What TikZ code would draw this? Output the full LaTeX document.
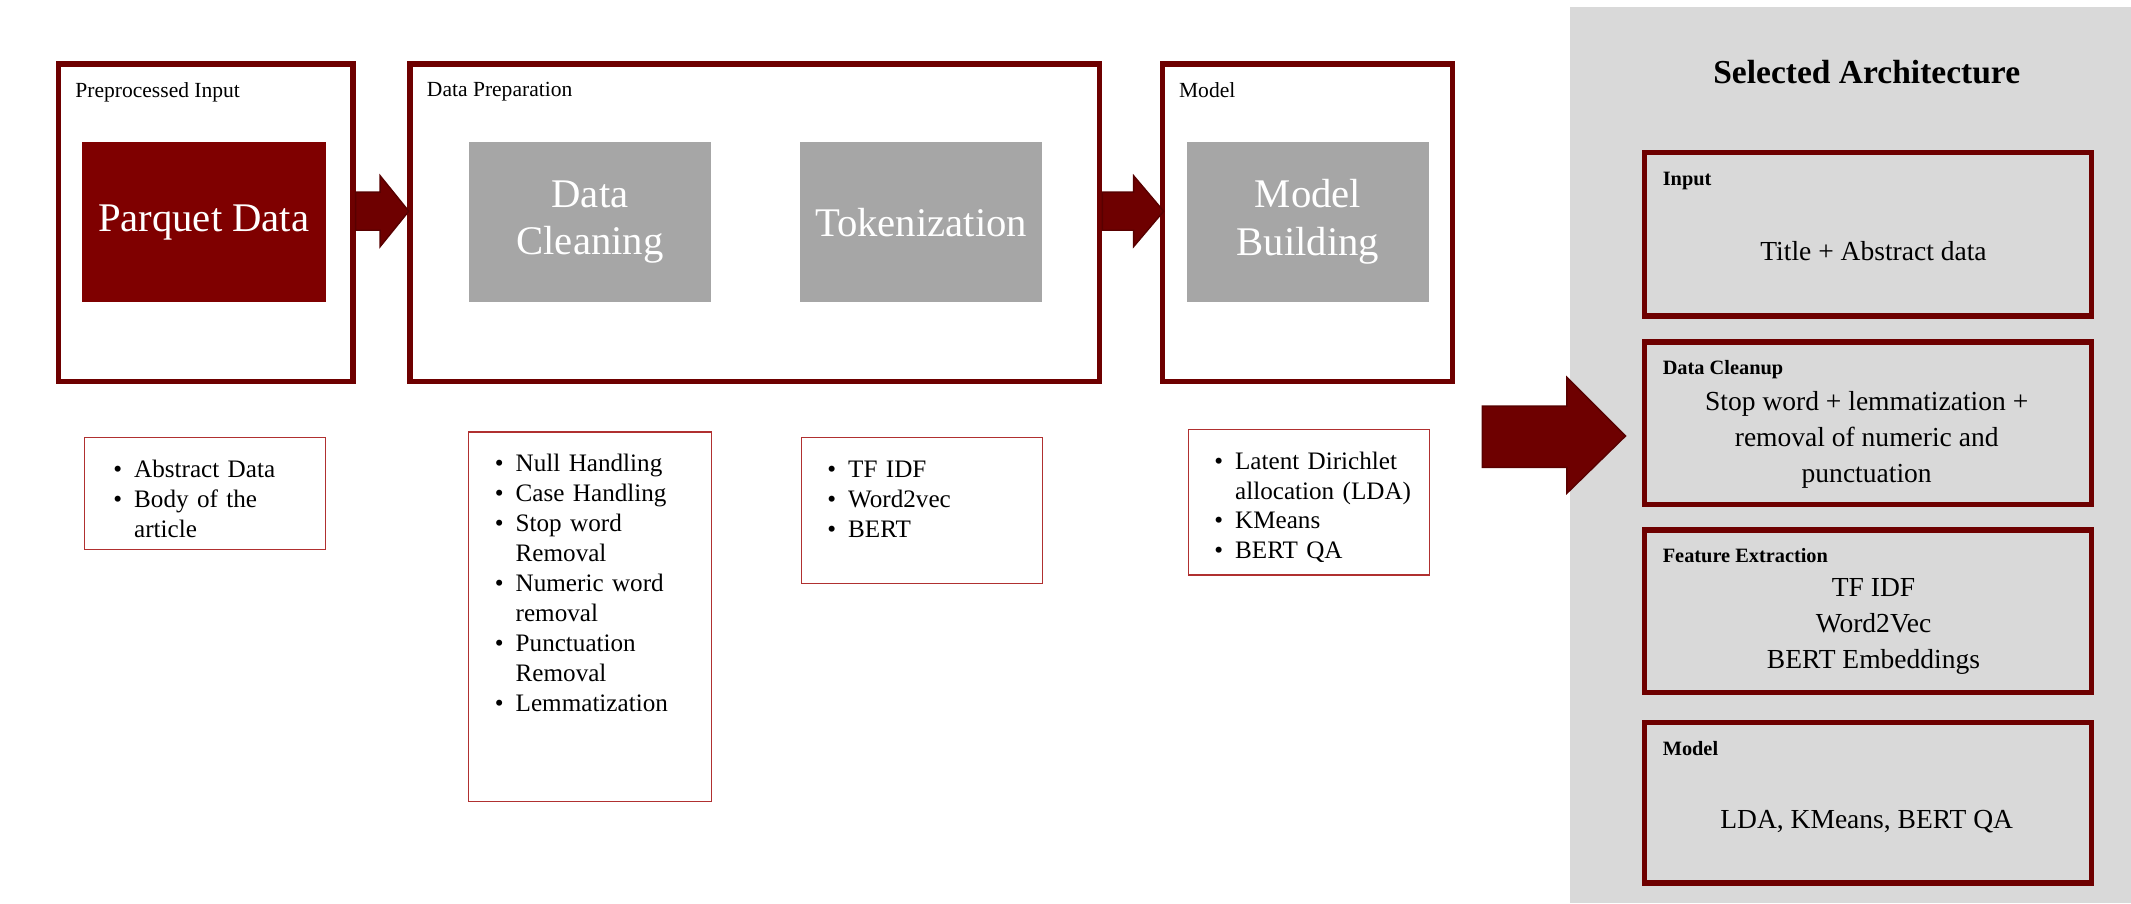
\documentclass[tikz,border=0pt]{standalone}
\usepackage{fontspec}
\setmainfont{Liberation Serif}
\usepackage{enumitem}
\definecolor{darkred}{HTML}{6E0000}
\definecolor{parquet}{HTML}{7F0000}
\definecolor{thinred}{HTML}{B03030}
\definecolor{panel}{HTML}{D9D9D9}
\definecolor{stepgray}{HTML}{A6A6A6}

\begin{document}
\begin{tikzpicture}[x=0.02cm, y=-0.02cm]
    \tikzset{
        cstage/.style={draw=darkred, line width=2.2pt},
        cstep/.style={fill=stepgray, text=white, font=\fontsize{17}{20}\selectfont, align=center, inner sep=0pt},
        clist/.style={draw=thinred, line width=0.5pt},
        carrow/.style={fill=darkred, draw=darkred!80!black, line width=0.6pt},
        ctag/.style={anchor=north west, font=\fontsize{9}{11}\selectfont, inner sep=0pt},
        cside/.style={draw=darkred, line width=2.2pt},
        cbold/.style={anchor=north west, font=\fontsize{8.5}{10}\selectfont\bfseries, inner sep=0pt},
        ctext/.style={font=\fontsize{11.5}{15}\selectfont, align=center}
    }
    \useasboundingbox (0,0) rectangle (1564,663);

    % Panel:
    \fill[panel] (1152,5) rectangle (1564,663);
    \node[font=\fontsize{14}{16}\selectfont\bfseries] (arch) at (1370,53) {Selected Architecture};

    % Stages:
    \draw[cstage] (43,47) rectangle (259,280);
    \node[ctag] (tag-input) at (55,60) {Preprocessed Input};
    \fill[parquet] (60,104) rectangle (239,222);
    \node[text=white, font=\fontsize{17}{20}\selectfont] (parquet) at (149.5,163) {Parquet Data};

    \draw[cstage] (301,47) rectangle (807,280);
    \node[ctag] (tag-prep) at (313,60) {Data Preparation};
    \fill[stepgray] (344,104) rectangle (522,222);
    \node[cstep] (cleaning) at (433,163) {Data\\Cleaning};
    \fill[stepgray] (587,104) rectangle (765,222);
    \node[cstep] (tokens) at (676,163) {Tokenization};

    \draw[cstage] (853,47) rectangle (1066,280);
    \node[ctag] (tag-model) at (865,60) {Model};
    \fill[stepgray] (871,104) rectangle (1049,222);
    \node[cstep] (building) at (960,163) {Model\\Building};

    % Arrows:
    \draw[carrow] (261,141) -- (279,141) -- (279,129) -- (300,155) -- (279,181) -- (279,169) -- (261,169) -- cycle;
    \draw[carrow] (809,141) -- (832,141) -- (832,129) -- (854,155) -- (832,181) -- (832,169) -- (809,169) -- cycle;
    \draw[carrow] (1088,298) -- (1150,298) -- (1150,277) -- (1193,320) -- (1150,362) -- (1150,343) -- (1088,343) -- cycle;

    % Lists:
    \tikzset{every node/.append style={font=\fontsize{10.5}{12.5}\selectfont}}
    \setlist[itemize]{leftmargin=1.2em, itemsep=0pt, topsep=0pt, parsep=0pt, label=\textbullet}
    \draw[clist] (62,321) rectangle (239,403);
    \node[anchor=north west, text width=2.9cm, inner sep=0pt] (list-input) at (76,328) {\begin{itemize}\item Abstract Data \item Body of the article\end{itemize}};
    \draw[clist] (344,317) rectangle (522,588);
    \node[anchor=north west, text width=2.8cm, inner sep=0pt] (list-prep) at (356,324) {\begin{itemize}\item Null Handling \item Case Handling \item Stop word Removal \item Numeric word removal \item Punctuation Removal \item Lemmatization\end{itemize}};
    \draw[clist] (588,321) rectangle (765,428);
    \node[anchor=north west, text width=2.9cm, inner sep=0pt] (list-tok) at (600,328) {\begin{itemize}\item TF IDF \item Word2vec \item BERT\end{itemize}};
    \draw[clist] (872,315) rectangle (1049,422);
    \node[anchor=north west, text width=3.2cm, inner sep=0pt] (list-model) at (884,322) {\begin{itemize}\item Latent Dirichlet allocation (LDA) \item KMeans \item BERT QA\end{itemize}};

    % Side boxes:
    \draw[cside] (1207,112) rectangle (1535,232);
    \node[cbold] (s-input) at (1220,126) {Input};
    \node[ctext] (s-input-t) at (1375,184) {Title + Abstract data};
    \draw[cside] (1207,251) rectangle (1535,370);
    \node[cbold] (s-clean) at (1220,264) {Data Cleanup};
    \node[ctext] (s-clean-t) at (1370,323) {Stop word + lemmatization +\\removal of numeric and\\punctuation};
    \draw[cside] (1207,389) rectangle (1535,508);
    \node[cbold] (s-feat) at (1220,402) {Feature Extraction};
    \node[ctext] (s-feat-t) at (1375,460) {TF IDF\\Word2Vec\\BERT Embeddings};
    \draw[cside] (1207,530) rectangle (1535,648);
    \node[cbold] (s-model) at (1220,544) {Model};
    \node[ctext] (s-model-t) at (1370,603) {LDA, KMeans, BERT QA};
\end{tikzpicture}
\end{document}
